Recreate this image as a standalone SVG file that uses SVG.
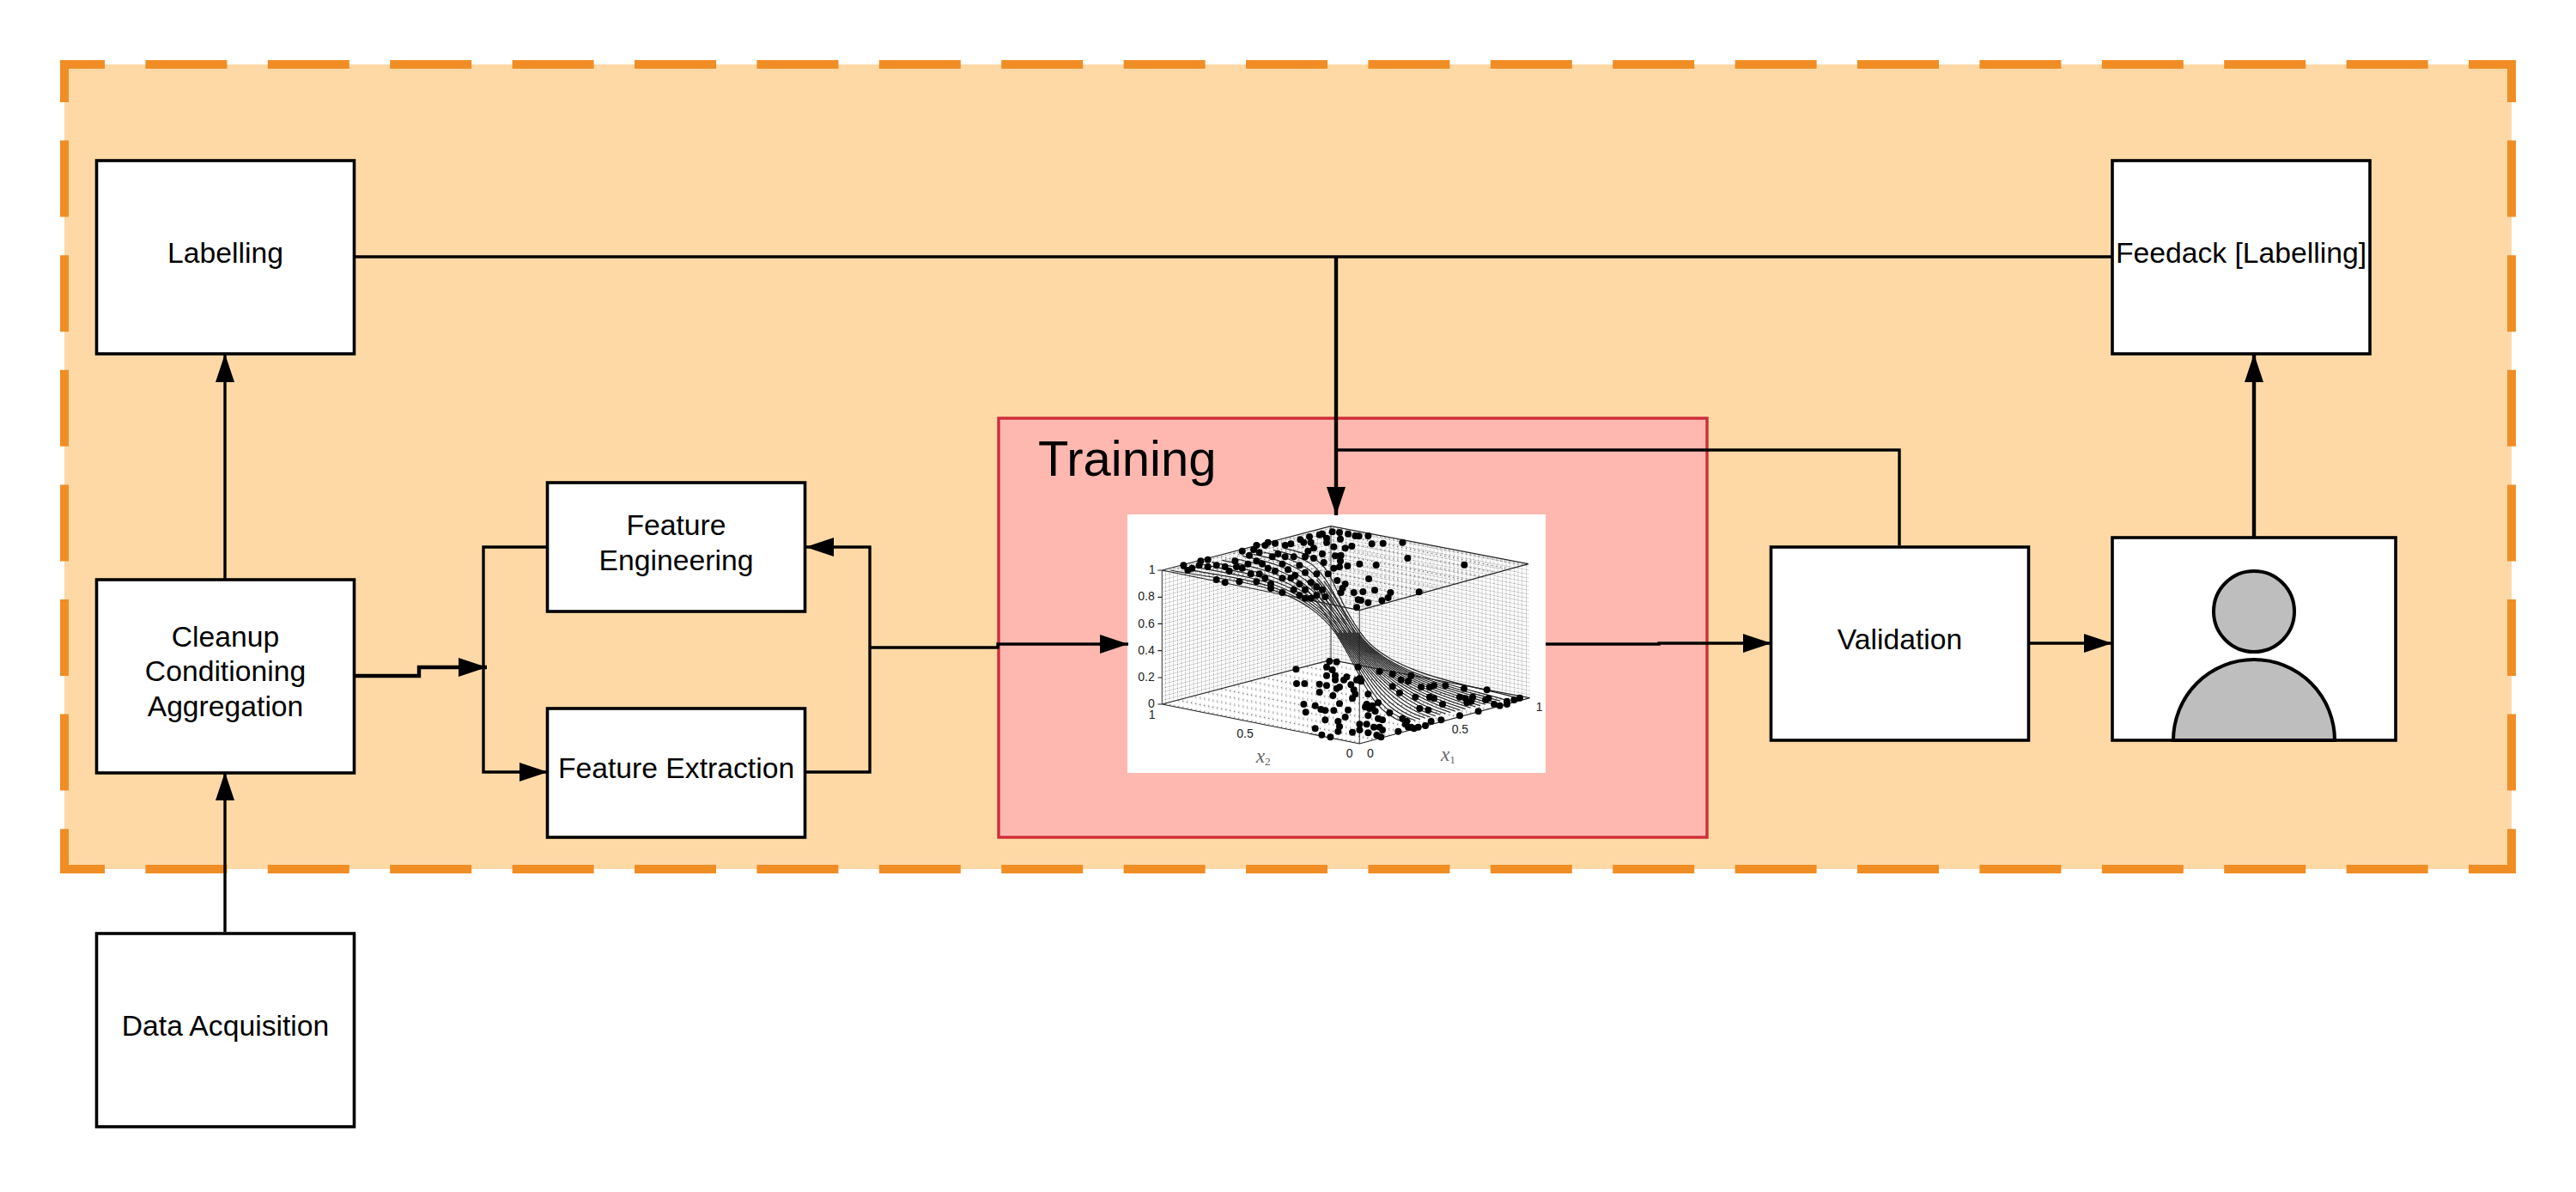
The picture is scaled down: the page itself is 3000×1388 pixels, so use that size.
<svg xmlns="http://www.w3.org/2000/svg" width="3000" height="1388" viewBox="0 0 3000 1388">
<style>
.box{fill:#fff;stroke:#000;stroke-width:3.6}
.lbl{font-family:"Liberation Sans",Arial,sans-serif;font-size:33.7px;fill:#000;text-anchor:middle}
.c{fill:none;stroke:#000;stroke-width:3.4}
.t{stroke-width:4.4}
.dash{fill:none;stroke:#f08d24;stroke-width:10}
.dh{stroke-dasharray:95 47.4;stroke-dashoffset:43}
.dv{stroke-dasharray:89 44.6;stroke-dashoffset:40}
.s{fill:none;stroke:#222;stroke-width:3.4}
.dots{fill:none;stroke:#000;stroke-width:24;stroke-linecap:round}
.tick{font-family:"Liberation Sans",Arial,sans-serif;font-size:42px;fill:#222}
.ax{font-family:"Liberation Serif","Times New Roman",serif;font-size:70px;font-style:italic;fill:#666}
.edge{fill:none;stroke:#222;stroke-width:3.4}
.v{fill:none;stroke:#666;stroke-width:4}
</style>
<defs>
<marker id="arr" markerUnits="userSpaceOnUse" markerWidth="34" markerHeight="24" refX="33" refY="12" orient="auto"><path d="M0 1L33 12L0 23Z" fill="#000"/></marker>
<pattern id="wl" width="14" height="14" patternUnits="userSpaceOnUse" patternTransform="matrix(1 -0.26 0 1 0 0)"><circle cx="4" cy="4" r="1.8" fill="#555"/><circle cx="11" cy="4" r="1.5" fill="#777"/><circle cx="4" cy="11" r="1.5" fill="#777"/></pattern>
<pattern id="wr" width="14" height="14" patternUnits="userSpaceOnUse" patternTransform="matrix(1 0.19 0 1 0 0)"><circle cx="4" cy="4" r="1.8" fill="#555"/><circle cx="11" cy="4" r="1.5" fill="#777"/><circle cx="4" cy="11" r="1.5" fill="#777"/></pattern>
<pattern id="pl" width="15" height="15" patternUnits="userSpaceOnUse" patternTransform="matrix(1 -0.26 1 0.2 0 0)"><circle cx="4" cy="4" r="1.8" fill="#555"/><circle cx="12" cy="12" r="1.5" fill="#777"/></pattern>
</defs>

<g id="container">
<rect x="75" y="75" width="2850" height="937" fill="#fed9a6"/>
<path class="dash dh" d="M70 75H2930"/>
<path class="dash dh" d="M70 1012H2930"/>
<path class="dash dv" d="M75 70V1017"/>
<path class="dash dv" d="M2925 70V1017"/>
</g>

<g id="training">
<rect x="1163" y="487" width="825" height="488" fill="#ffb8b0" stroke="#ce2d38" stroke-width="3.4"/>
<text x="1209" y="554" font-family="&quot;Liberation Sans&quot;,Arial,sans-serif" font-size="58" fill="#000">Training</text>
</g>

<g id="plot" transform="translate(1300 590) scale(0.33333)">
<rect x="39" y="27" width="1461" height="903" fill="#fff"/>
<polygon points="160,222 750,68 750,535 160,690" fill="url(#wl)"/>
<polygon points="750,68 1440,200 1445,668 750,535" fill="url(#wr)"/>
<polygon points="160,690 750,535 1445,668 850,828" fill="url(#pl)"/>
<polygon points="160,222 750,68 1440,200 850,362" fill="url(#pl)"/>
<path class="v" d="M750 68V535M850 362V828M160 222V690"/>
<path class="edge" d="M160 222L750 68L1440 200L850 362ZM160 690L750 535L1445 668L850 828Z"/>
<path class="edge" d="M145 222H160M145 316H160M145 409H160M145 503H160M145 597H160M145 690H160" stroke-width="2"/>
<g id="surface">
<path class="s" d="M190 222C390 262 635 260 765 440C865 590 880 715 1010 755"/>
<path class="s" d="M226 215C426 255 643 260 773 440C873 590 915 707 1045 747"/>
<path class="s" d="M262 208C462 248 651 260 781 440C881 590 950 699 1080 739"/>
<path class="s" d="M298 201C498 241 659 260 789 440C889 590 985 691 1115 731"/>
<path class="s" d="M334 194C534 234 667 260 797 440C897 590 1020 683 1150 723"/>
<path class="s" d="M370 187C570 227 675 260 805 440C905 590 1055 675 1185 715"/>
<path class="s" d="M406 180C606 220 683 260 813 440C913 590 1090 667 1220 707"/>
<path class="s" d="M442 173C642 213 691 260 821 440C921 590 1125 659 1255 699"/>
<path class="s" d="M478 166C678 206 699 260 829 440C929 590 1160 651 1290 691"/>
<path class="s" d="M514 159C714 199 707 260 837 440C937 590 1195 643 1325 683"/>
<path class="s" d="M550 152C750 192 715 260 845 440C945 590 1230 635 1360 675"/>
<path class="s" d="M586 145C786 185 723 260 853 440C953 590 1265 627 1395 667"/>
<path class="s" d="M769 440C869 590 898 711 1028 751M777 440C877 590 933 703 1062 743M785 440C885 590 968 695 1098 735M793 440C893 590 1003 687 1132 727M801 440C901 590 1038 679 1168 719M809 440C909 590 1072 671 1202 711M817 440C917 590 1108 663 1238 703M825 440C925 590 1142 655 1272 695M833 440C933 590 1178 647 1308 687M841 440C941 590 1212 639 1342 679"/>
<path class="s" d="M640 262C690 310 730 370 769 440M660 255C710 305 745 370 785 440M680 255C725 305 760 370 801 440M700 255C745 305 780 370 817 440M725 260C765 310 795 370 833 440"/>
</g>
<path class="dots" d="M755 88h0M780 90h0M810 95h0M835 102h0M848 103h0M880 102h0M893 130h0M932 128h0M1000 125h0M1018 180h0M1216 203h0M850 200h0M908 204h0M882 252h0M903 292h0M1058 298h0M958 300h0M950 318h0M928 328h0M880 335h0M855 327h0M845 325h0M862 297h0M830 300h0M800 270h0M790 285h0M785 300h0M772 258h0M808 207h0M780 210h0M760 215h0M765 172h0M785 170h0M783 190h0M800 145h0M823 138h0M783 113h0M760 140h0M735 110h0M735 125h0M720 95h0M710 98h0M675 105h0M643 115h0M655 125h0M680 125h0M690 145h0M670 155h0M720 165h0M725 195h0M690 180h0M660 175h0M620 175h0M640 205h0M610 130h0M590 135h0M555 128h0M530 125h0M520 135h0M490 135h0M480 150h0M440 155h0M465 170h0M490 190h0M460 200h0M420 210h0M380 210h0M395 225h0M320 185h0M295 190h0M290 205h0M250 222h0M235 205h0M350 255h0M380 265h0M430 262h0M490 262h0M540 270h0M520 250h0M555 225h0M580 200h0M600 220h0M625 240h0M660 230h0M700 235h0M740 235h0M680 265h0M660 290h0M640 310h0M680 320h0M700 310h0M730 315h0M580 300h0M540 285h0M840 352h0M500 160h0M510 200h0M545 175h0M565 165h0M590 175h0M530 215h0M610 250h0M580 250h0M640 270h0M700 280h0M720 290h0M660 320h0M620 290h0M415 190h0M440 215h0M470 235h0M500 235h0M350 205h0M320 210h0M265 215h0"/>
<path class="dots" d="M745 540h0M770 542h0M628 568h0M735 560h0M755 570h0M735 590h0M765 590h0M765 605h0M805 595h0M795 605h0M840 605h0M855 610h0M630 618h0M658 618h0M710 620h0M735 625h0M770 635h0M780 630h0M820 622h0M830 640h0M835 655h0M710 648h0M757 660h0M825 670h0M880 655h0M655 690h0M695 695h0M715 708h0M730 712h0M760 712h0M780 688h0M810 710h0M800 735h0M662 718h0M730 745h0M775 750h0M780 768h0M695 775h0M718 797h0M748 805h0M775 785h0M825 788h0M850 760h0M850 780h0M875 690h0M895 695h0M915 685h0M880 730h0M905 715h0M875 760h0M880 790h0M900 770h0M920 770h0M930 780h0M910 798h0M925 805h0M955 720h0M930 745h0M985 785h0M1015 750h0M1030 770h0M1055 770h0M1080 765h0M1100 750h0M1135 745h0M1200 730h0M1265 715h0M1320 690h0M1365 680h0M1410 668h0M1365 690h0M1290 675h0M1220 670h0M1225 685h0M1150 625h0M1110 625h0M1095 630h0M1065 630h0M1030 590h0M1020 610h0M995 605h0M965 628h0M990 650h0M1045 665h0M1095 665h0M1060 705h0M1090 710h0M1140 690h0M1200 665h0M1245 665h0M965 585h0M920 575h0M850 600h0M845 560h0M1215 635h0M1295 640h0M870 700h0M885 705h0M915 740h0M1010 760h0M1020 770h0M1040 775h0M1000 740h0M1110 670h0M1240 680h0M1300 670h0M1340 695h0M1390 675h0"/>
<text class="tick" x="113" y="235">1</text>
<text class="tick" x="76" y="328">0.8</text>
<text class="tick" x="76" y="422">0.6</text>
<text class="tick" x="76" y="515">0.4</text>
<text class="tick" x="76" y="608">0.2</text>
<text class="tick" x="111" y="703">0</text>
<text class="tick" x="113" y="742">1</text>
<text class="tick" x="421" y="808">0.5</text>
<text class="tick" x="803" y="875">0</text>
<text class="tick" x="876" y="875">0</text>
<text class="tick" x="1172" y="793">0.5</text>
<text class="tick" x="1466" y="715">1</text>
<text class="ax" x="488" y="893">x<tspan dy="10" font-size="40" font-style="normal">2</tspan></text>
<text class="ax" x="1134" y="888">x<tspan dy="10" font-size="40" font-style="normal">1</tspan></text>
</g>

<g id="labelling"><rect class="box" x="112.5" y="187" width="300" height="225"/><text class="lbl" x="262.5" y="306">Labelling</text></g>
<g id="cleanup"><rect class="box" x="112.5" y="675" width="300" height="225"/><text class="lbl" x="262.5" y="753">Cleanup</text><text class="lbl" x="262.5" y="793">Conditioning</text><text class="lbl" x="262.5" y="834">Aggregation</text></g>
<g id="data-acquisition"><rect class="box" x="112.5" y="1087" width="300" height="225"/><text class="lbl" x="262.5" y="1206">Data Acquisition</text></g>
<g id="feature-engineering"><rect class="box" x="637.5" y="562" width="300" height="150"/><text class="lbl" x="787.5" y="623">Feature</text><text class="lbl" x="787.5" y="664">Engineering</text></g>
<g id="feature-extraction"><rect class="box" x="637.5" y="825" width="300" height="150"/><text class="lbl" x="787.5" y="906">Feature Extraction</text></g>
<g id="validation"><rect class="box" x="2062.5" y="637" width="300" height="225"/><text class="lbl" x="2212.5" y="756">Validation</text></g>
<g id="feedback"><rect class="box" x="2460" y="187" width="300" height="225"/><text class="lbl" x="2610" y="306">Feedack [Labelling]</text></g>
<g id="user">
<rect class="box" x="2460" y="626" width="330" height="236"/>
<circle cx="2625" cy="712" r="47" fill="#bebebe" stroke="#000" stroke-width="4"/>
<path d="M2531 862A94 94 0 0 1 2719 862Z" fill="#bebebe" stroke="#000" stroke-width="4"/>
</g>

<g id="connectors">
<path class="c" d="M262 1085V899" marker-end="url(#arr)"/>
<path class="c" d="M262 674V412" marker-end="url(#arr)"/>
<path class="c" d="M414 299H2459"/>
<path class="c t" d="M1556 299V600" marker-end="url(#arr)"/>
<path class="c" d="M2212 635V524H1556"/>
<path class="c t" d="M2625 625V412" marker-end="url(#arr)"/>
<path class="c t" d="M414 787H488V777H567" marker-end="url(#arr)"/>
<path class="c" d="M636 637H563V899H638" marker-end="url(#arr)"/>
<path class="c" d="M939 899H1013V637H938" marker-end="url(#arr)"/>
<path class="c" d="M1013 754H1162V750H1314" marker-end="url(#arr)"/>
<path class="c" d="M1800 750H1932V749H2063" marker-end="url(#arr)"/>
<path class="c" d="M2364 749H2460" marker-end="url(#arr)"/>
</g>
</svg>
